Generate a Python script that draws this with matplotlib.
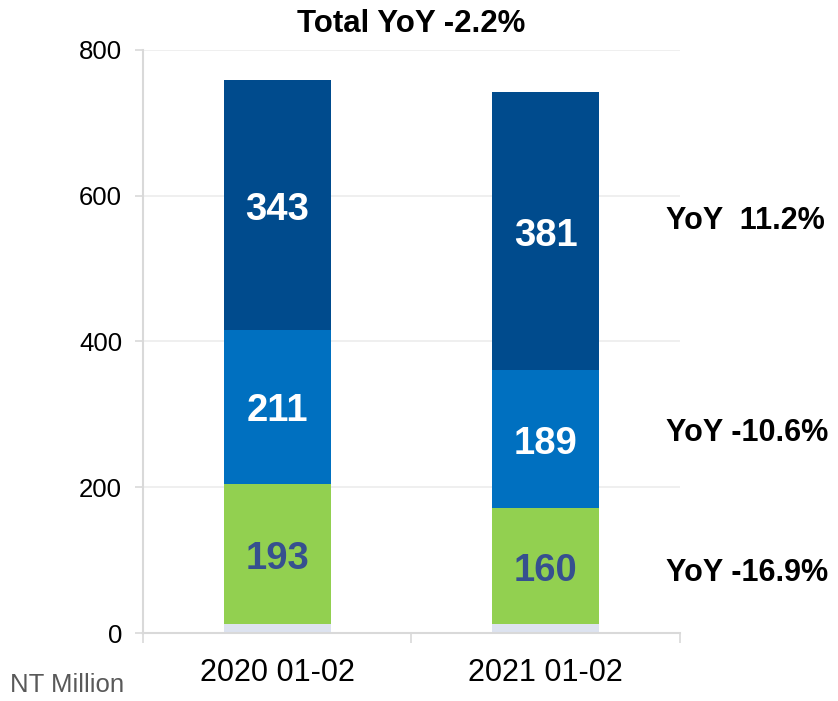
import matplotlib.pyplot as plt
import numpy as np

plt.rcParams["font.family"] = ["Liberation Sans", "DejaVu Sans"]

periods = ["2020 01-02", "2021 01-02"]
other = [12, 12]
green_seg = [193, 160]
mid_seg = [211, 189]
dark_seg = [343, 381]
yoy_labels = ["YoY -16.9%", "YoY -10.6%", "YoY  11.2%"]
title = "Total YoY -2.2%"
unit = "NT Million"

colors = ["#dde3f0", "#92d050", "#0070c0", "#004b8d"]
label_colors = [None, "#36508f", "white", "white"]

fig = plt.figure(figsize=(8.38, 7.01), dpi=100)
ax = fig.add_axes([0.1706, 0.097, 0.6409, 0.8317])

x = np.arange(len(periods))
segments = [other, green_seg, mid_seg, dark_seg]
bottom = np.zeros(len(periods))
mids = []
for seg, col, lcol in zip(segments, colors, label_colors):
    seg = np.array(seg, dtype=float)
    ax.bar(x, seg, width=0.4, bottom=bottom, color=col, zorder=2)
    mid = bottom + seg / 2
    mids.append(mid)
    if lcol:
        for xi, m, v in zip(x, mid, seg):
            ax.text(xi, m - 1, f"{v:.0f}", ha="center", va="center_baseline",
                    fontsize=27.5, fontweight="bold", color=lcol, zorder=3)
    bottom = bottom + seg

# YoY labels to the right of the 2021 bar
offsets = [-10, 8, 14]
for lab, m, off in zip(yoy_labels, mids[1:], offsets):
    ax.text(1.448, m[1] + off, lab, ha="left", va="center", fontsize=22,
            fontweight="bold", color="black", clip_on=False)

ax.set_xlim(-0.5, 1.5)
ax.set_ylim(0, 800)
ax.set_yticks([0, 200, 400, 600, 800])
ax.tick_params(axis="y", length=6, width=1.2, color="#d9d9d9",
               labelsize=18.5, pad=9)
ax.set_xticks([-0.5, 0.5, 1.5])
ax.set_xticklabels([])
ax.tick_params(axis="x", which="major", length=7.5, width=1.2, color="#d9d9d9")
ax.set_xticks(x, minor=True)
ax.set_xticklabels(periods, minor=True)
ax.tick_params(axis="x", which="minor", length=0, labelsize=22, pad=18)

ax.grid(axis="y", color="#ececec", linewidth=1.2, zorder=0)
ax.set_axisbelow(True)
for s in ["top", "right"]:
    ax.spines[s].set_visible(False)
for s in ["left", "bottom"]:
    ax.spines[s].set_color("#d9d9d9")
    ax.spines[s].set_linewidth(1.5)

ax.set_title(title, fontsize=22.5, fontweight="bold", pad=13)
fig.text(0.012, 0.005, unit, fontsize=18.5, color="#595959", ha="left",
         va="bottom")

fig.savefig("out.png", dpi=100)
